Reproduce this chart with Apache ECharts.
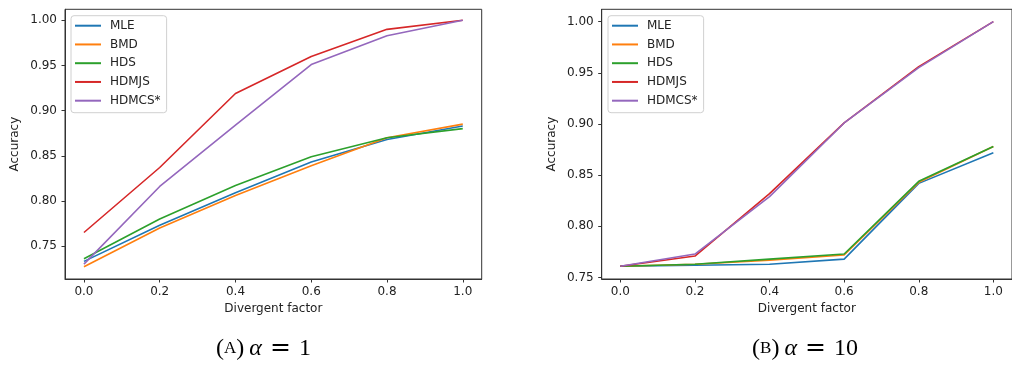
<!DOCTYPE html>
<html>
<head>
<meta charset="utf-8">
<script src="https://cdn.jsdelivr.net/npm/echarts@6/dist/echarts.min.js"></script>
<style>
  html, body { margin: 0; padding: 0; background: #fff; }
  #chart { width: 1012px; height: 365px; }
</style>
</head>
<body>
<div id="chart"></div>
<script>
// divergent factor values
const factors = [0.0, 0.2, 0.4, 0.6, 0.8, 1.0]
const seriesNames = ['MLE', 'BMD', 'HDS', 'HDMJS', 'HDMCS*']
const colors = ['#1f77b4', '#ff7f0e', '#2ca02c', '#d62728', '#9467bd']

// (A) alpha = 1
const mleA = [0.733, 0.773, 0.809, 0.843, 0.868, 0.883]
const bmdA = [0.727, 0.770, 0.806, 0.839, 0.870, 0.885]
const hdsA = [0.736, 0.780, 0.817, 0.849, 0.870, 0.880]
const hdmjsA = [0.765, 0.837, 0.919, 0.960, 0.990, 1.000]
const hdmcsA = [0.730, 0.816, 0.884, 0.951, 0.983, 1.000]

// (B) alpha = 10
const mleB = [0.761, 0.762, 0.763, 0.768, 0.842, 0.872]
const bmdB = [0.761, 0.763, 0.767, 0.772, 0.843, 0.878]
const hdsB = [0.761, 0.763, 0.768, 0.773, 0.844, 0.878]
const hdmjsB = [0.761, 0.771, 0.832, 0.901, 0.956, 1.000]
const hdmcsB = [0.761, 0.773, 0.829, 0.901, 0.955, 1.000]

const xTicks = [0.0, 0.2, 0.4, 0.6, 0.8, 1.0]
const yTicks = [0.75, 0.80, 0.85, 0.90, 0.95, 1.00]

const panelA = [mleA, bmdA, hdsA, hdmjsA, hdmcsA]
const panelB = [mleB, bmdB, hdsB, hdmjsB, hdmcsB]

const tickFont = { fontFamily: 'DejaVu Sans', fontSize: 12, color: '#222' }

const xAxisFor = (gridIndex) => ({
  type: 'value',
  gridIndex,
  min: -0.05,
  max: 1.05,
  name: 'Divergent factor',
  nameLocation: 'middle',
  nameGap: 24,
  nameTextStyle: { fontFamily: 'DejaVu Sans', fontSize: 12, color: '#222' },
  splitLine: { show: false },
  axisLine: { show: true, onZero: false, lineStyle: { color: '#333', width: 1 } },
  axisTick: { show: true, length: 3.5, lineStyle: { color: '#333' }, customValues: xTicks },
  axisLabel: {
    ...tickFont,
    margin: 7,
    customValues: xTicks,
    formatter: (v) => v.toFixed(1),
  },
})

const yAxisFor = (gridIndex, min, max) => ({
  type: 'value',
  gridIndex,
  min,
  max,
  name: 'Accuracy',
  nameLocation: 'middle',
  nameRotate: 90,
  nameGap: 44,
  nameTextStyle: { fontFamily: 'DejaVu Sans', fontSize: 12, color: '#222' },
  splitLine: { show: false },
  axisLine: { show: true, onZero: false, lineStyle: { color: '#333', width: 1 } },
  axisTick: { show: true, length: 3.5, lineStyle: { color: '#333' }, customValues: yTicks },
  axisLabel: {
    ...tickFont,
    margin: 8,
    customValues: yTicks,
    formatter: (v) => v.toFixed(2),
  },
})

const legendFor = (left) => ({
  orient: 'vertical',
  left,
  top: 15.7,
  data: seriesNames,
  icon: 'rect',
  itemWidth: 26,
  itemHeight: 2,
  itemGap: 4.75,
  padding: [3, 6, 5, 4],
  backgroundColor: '#fff',
  borderColor: '#d0d0d0',
  borderWidth: 1,
  borderRadius: 3,
  textStyle: { fontFamily: 'DejaVu Sans', fontSize: 12, lineHeight: 14, color: '#222', padding: [0, 0, 0, 4] },
})

const makeSeries = (panel, idx) =>
  panel.map((vals, i) => ({
    name: seriesNames[i],
    type: 'line',
    xAxisIndex: idx,
    yAxisIndex: idx,
    symbol: 'none',
    data: factors.map((f, j) => [f, vals[j]]),
    lineStyle: { color: colors[i], width: 1.6 },
    itemStyle: { color: colors[i] },
    z: 2 + i,
  }))

const captionRich = {
  p: { fontFamily: 'Liberation Serif', fontSize: 24, color: '#111' },
  s: { fontFamily: 'Liberation Serif', fontSize: 17, color: '#111' },
  a: { fontFamily: 'Liberation Serif', fontStyle: 'italic', fontSize: 24, color: '#111', padding: [0, 6, 0, 5] },
  e: { fontFamily: 'DejaVu Serif', fontSize: 25, color: '#222', padding: [0, 8, 0, 2] },
}

const chart = echarts.init(document.getElementById('chart'))
chart.setOption({
  animation: false,
  backgroundColor: '#fff',
  grid: [
    { left: 65, top: 9.3, width: 416.7, height: 269.7, show: true, borderColor: '#333', borderWidth: 1 },
    { left: 601.7, top: 9.3, width: 416.7, height: 269.7, show: true, borderColor: '#333', borderWidth: 1 },
  ],
  xAxis: [xAxisFor(0), xAxisFor(1)],
  yAxis: [yAxisFor(0, 0.7135, 1.0122), yAxisFor(1, 0.7486, 1.012)],
  legend: [legendFor(71), legendFor(608)],
  series: [...makeSeries(panelA, 0), ...makeSeries(panelB, 1)],
  graphic: [
    {
      type: 'text',
      x: 263.5, y: 348.5,
      style: { text: '{p|(}{s|A}{p|)}{a|α}{e|=}{p|1}', rich: captionRich, align: 'center', verticalAlign: 'middle' },
    },
    {
      type: 'text',
      x: 805, y: 348.5,
      style: { text: '{p|(}{s|B}{p|)}{a|α}{e|=}{p|10}', rich: captionRich, align: 'center', verticalAlign: 'middle' },
    },
  ],
})
</script>
</body>
</html>
